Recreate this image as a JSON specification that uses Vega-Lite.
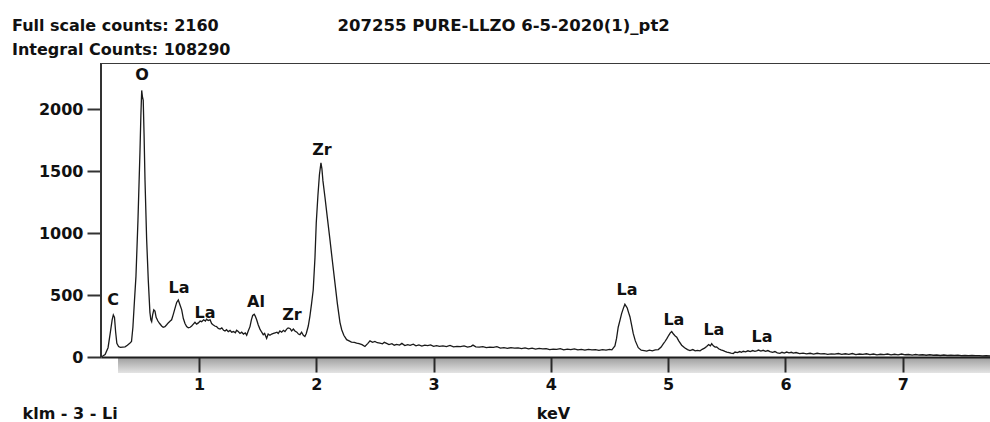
{
  "$schema": "https://vega.github.io/schema/vega-lite/v6.json",
  "width": 890,
  "height": 310,
  "autosize": {"type": "none"},
  "padding": {"left": 101, "top": 63, "right": 0, "bottom": 49},
  "background": "white",
  "title": {
    "text": ["Full scale counts: 2160", "Integral Counts: 108290"],
    "anchor": "start",
    "frame": "group",
    "dx": -89,
    "dy": 45,
    "fontSize": 16,
    "font": "DejaVu Sans",
    "fontWeight": "bold",
    "color": "#111111",
    "lineHeight": 24
  },
  "config": {"view": {"stroke": null}, "font": "DejaVu Sans"},
  "resolve": {"axis": {"x": "independent", "y": "independent"}},
  "datasets": {
    "spectrum": [
      {"keV":0.165,"counts":0},{"keV":0.18,"counts":8},{"keV":0.2,"counts":20},{"keV":0.225,"counts":75},{"keV":0.245,"counts":200},{"keV":0.26,"counts":300},{"keV":0.27,"counts":340},{"keV":0.28,"counts":320},{"keV":0.29,"counts":200},{"keV":0.3,"counts":110},{"keV":0.315,"counts":85},{"keV":0.33,"counts":78},{"keV":0.35,"counts":80},{"keV":0.37,"counts":82},{"keV":0.39,"counts":95},{"keV":0.41,"counts":110},{"keV":0.425,"counts":125},{"keV":0.437,"counts":240},{"keV":0.45,"counts":450},{"keV":0.463,"counts":650},{"keV":0.48,"counts":1100},{"keV":0.497,"counts":1650},{"keV":0.505,"counts":1950},{"keV":0.512,"counts":2150},{"keV":0.518,"counts":2100},{"keV":0.525,"counts":2070},{"keV":0.532,"counts":1800},{"keV":0.54,"counts":1430},{"keV":0.554,"counts":950},{"keV":0.568,"counts":620},{"keV":0.582,"counts":360},{"keV":0.59,"counts":300},{"keV":0.597,"counts":285},{"keV":0.605,"counts":340},{"keV":0.615,"counts":380},{"keV":0.625,"counts":370},{"keV":0.635,"counts":320},{"keV":0.65,"counts":290},{"keV":0.665,"counts":270},{"keV":0.682,"counts":250},{"keV":0.695,"counts":240},{"keV":0.71,"counts":245},{"keV":0.725,"counts":260},{"keV":0.738,"counts":275},{"keV":0.755,"counts":290},{"keV":0.767,"counts":300},{"keV":0.78,"counts":340},{"keV":0.795,"counts":390},{"keV":0.81,"counts":440},{"keV":0.824,"counts":460},{"keV":0.835,"counts":430},{"keV":0.853,"counts":380},{"keV":0.867,"counts":310},{"keV":0.881,"counts":270},{"keV":0.895,"counts":245},{"keV":0.909,"counts":235},{"keV":0.925,"counts":240},{"keV":0.938,"counts":250},{"keV":0.952,"counts":265},{"keV":0.966,"counts":280},{"keV":0.98,"counts":265},{"keV":0.995,"counts":275},{"keV":1.01,"counts":290},{"keV":1.023,"counts":285},{"keV":1.04,"counts":300},{"keV":1.055,"counts":290},{"keV":1.065,"counts":305},{"keV":1.079,"counts":295},{"keV":1.095,"counts":300},{"keV":1.108,"counts":270},{"keV":1.12,"counts":260},{"keV":1.135,"counts":250},{"keV":1.15,"counts":245},{"keV":1.165,"counts":230},{"keV":1.18,"counts":225},{"keV":1.195,"counts":235},{"keV":1.21,"counts":215},{"keV":1.222,"counts":210},{"keV":1.235,"counts":220},{"keV":1.25,"counts":205},{"keV":1.265,"counts":215},{"keV":1.279,"counts":200},{"keV":1.295,"counts":205},{"keV":1.31,"counts":195},{"keV":1.321,"counts":215},{"keV":1.335,"counts":205},{"keV":1.35,"counts":190},{"keV":1.364,"counts":200},{"keV":1.38,"counts":185},{"keV":1.395,"counts":195},{"keV":1.407,"counts":175},{"keV":1.42,"counts":210},{"keV":1.435,"counts":245},{"keV":1.447,"counts":300},{"keV":1.458,"counts":335},{"keV":1.471,"counts":345},{"keV":1.48,"counts":330},{"keV":1.492,"counts":300},{"keV":1.505,"counts":260},{"keV":1.52,"counts":225},{"keV":1.535,"counts":200},{"keV":1.548,"counts":180},{"keV":1.56,"counts":190},{"keV":1.577,"counts":150},{"keV":1.59,"counts":185},{"keV":1.605,"counts":175},{"keV":1.62,"counts":185},{"keV":1.635,"counts":190},{"keV":1.65,"counts":195},{"keV":1.665,"counts":200},{"keV":1.676,"counts":190},{"keV":1.69,"counts":210},{"keV":1.705,"counts":200},{"keV":1.72,"counts":215},{"keV":1.733,"counts":205},{"keV":1.748,"counts":225},{"keV":1.76,"counts":235},{"keV":1.776,"counts":230},{"keV":1.79,"counts":210},{"keV":1.805,"counts":225},{"keV":1.818,"counts":210},{"keV":1.835,"counts":200},{"keV":1.848,"counts":185},{"keV":1.861,"counts":180},{"keV":1.875,"counts":200},{"keV":1.89,"counts":175},{"keV":1.903,"counts":165},{"keV":1.915,"counts":190},{"keV":1.932,"counts":250},{"keV":1.946,"counts":330},{"keV":1.96,"counts":430},{"keV":1.974,"counts":540},{"keV":1.989,"counts":800},{"keV":2.0,"counts":1080},{"keV":2.014,"counts":1300},{"keV":2.027,"counts":1470},{"keV":2.04,"counts":1565},{"keV":2.048,"counts":1520},{"keV":2.057,"counts":1420},{"keV":2.074,"counts":1290},{"keV":2.095,"counts":1120},{"keV":2.117,"counts":944},{"keV":2.138,"counts":770},{"keV":2.159,"counts":600},{"keV":2.18,"counts":430},{"keV":2.202,"counts":280},{"keV":2.217,"counts":220},{"keV":2.235,"counts":175},{"keV":2.259,"counts":140},{"keV":2.28,"counts":130},{"keV":2.3,"counts":120},{"keV":2.325,"counts":118},{"keV":2.344,"counts":112},{"keV":2.365,"counts":108},{"keV":2.39,"counts":100},{"keV":2.415,"counts":85},{"keV":2.44,"counts":110},{"keV":2.458,"counts":130},{"keV":2.48,"counts":118},{"keV":2.5,"counts":125},{"keV":2.52,"counts":115},{"keV":2.543,"counts":112},{"keV":2.565,"counts":106},{"keV":2.58,"counts":118},{"keV":2.6,"counts":110},{"keV":2.62,"counts":100},{"keV":2.645,"counts":108},{"keV":2.665,"counts":95},{"keV":2.685,"counts":102},{"keV":2.71,"counts":96},{"keV":2.73,"counts":110},{"keV":2.755,"counts":92},{"keV":2.78,"counts":100},{"keV":2.8,"counts":94},{"keV":2.827,"counts":104},{"keV":2.85,"counts":90},{"keV":2.875,"counts":98},{"keV":2.9,"counts":88},{"keV":2.925,"counts":96},{"keV":2.95,"counts":92},{"keV":2.975,"counts":98},{"keV":3.0,"counts":86},{"keV":3.026,"counts":92},{"keV":3.05,"counts":86},{"keV":3.08,"counts":90},{"keV":3.11,"counts":84},{"keV":3.14,"counts":94},{"keV":3.17,"counts":82},{"keV":3.2,"counts":86},{"keV":3.23,"counts":84},{"keV":3.26,"counts":90},{"keV":3.29,"counts":80},{"keV":3.32,"counts":86},{"keV":3.336,"counts":96},{"keV":3.36,"counts":82},{"keV":3.39,"counts":80},{"keV":3.42,"counts":84},{"keV":3.45,"counts":76},{"keV":3.48,"counts":80},{"keV":3.51,"counts":78},{"keV":3.54,"counts":84},{"keV":3.57,"counts":72},{"keV":3.6,"counts":76},{"keV":3.63,"counts":70},{"keV":3.66,"counts":76},{"keV":3.69,"counts":72},{"keV":3.72,"counts":74},{"keV":3.75,"counts":68},{"keV":3.78,"counts":74},{"keV":3.81,"counts":66},{"keV":3.84,"counts":72},{"keV":3.87,"counts":64},{"keV":3.9,"counts":70},{"keV":3.93,"counts":66},{"keV":3.96,"counts":68},{"keV":3.99,"counts":60},{"keV":4.02,"counts":64},{"keV":4.05,"counts":62},{"keV":4.08,"counts":68},{"keV":4.11,"counts":58},{"keV":4.14,"counts":64},{"keV":4.17,"counts":60},{"keV":4.2,"counts":66},{"keV":4.23,"counts":58},{"keV":4.26,"counts":62},{"keV":4.29,"counts":56},{"keV":4.32,"counts":62},{"keV":4.35,"counts":58},{"keV":4.38,"counts":60},{"keV":4.41,"counts":54},{"keV":4.44,"counts":60},{"keV":4.47,"counts":56},{"keV":4.5,"counts":62},{"keV":4.52,"counts":58},{"keV":4.546,"counts":90},{"keV":4.56,"counts":150},{"keV":4.574,"counts":240},{"keV":4.59,"counts":300},{"keV":4.603,"counts":350},{"keV":4.617,"counts":390},{"keV":4.631,"counts":425},{"keV":4.641,"counts":410},{"keV":4.651,"counts":395},{"keV":4.662,"counts":360},{"keV":4.674,"counts":325},{"keV":4.688,"counts":260},{"keV":4.702,"counts":190},{"keV":4.72,"counts":130},{"keV":4.745,"counts":75},{"keV":4.77,"counts":55},{"keV":4.795,"counts":52},{"keV":4.817,"counts":48},{"keV":4.84,"counts":56},{"keV":4.865,"counts":50},{"keV":4.89,"counts":58},{"keV":4.916,"counts":60},{"keV":4.94,"counts":80},{"keV":4.958,"counts":105},{"keV":4.973,"counts":125},{"keV":4.99,"counts":150},{"keV":5.005,"counts":175},{"keV":5.018,"counts":195},{"keV":5.03,"counts":205},{"keV":5.045,"counts":185},{"keV":5.06,"counts":170},{"keV":5.073,"counts":160},{"keV":5.09,"counts":130},{"keV":5.115,"counts":95},{"keV":5.14,"counts":75},{"keV":5.165,"counts":60},{"keV":5.186,"counts":52},{"keV":5.21,"counts":60},{"keV":5.23,"counts":50},{"keV":5.25,"counts":54},{"keV":5.272,"counts":50},{"keV":5.29,"counts":62},{"keV":5.31,"counts":72},{"keV":5.328,"counts":85},{"keV":5.345,"counts":100},{"keV":5.36,"counts":90},{"keV":5.371,"counts":108},{"keV":5.385,"counts":90},{"keV":5.4,"counts":80},{"keV":5.413,"counts":82},{"keV":5.43,"counts":66},{"keV":5.45,"counts":58},{"keV":5.47,"counts":52},{"keV":5.484,"counts":46},{"keV":5.5,"counts":40},{"keV":5.52,"counts":36},{"keV":5.535,"counts":32},{"keV":5.555,"counts":28},{"keV":5.57,"counts":40},{"keV":5.59,"counts":36},{"keV":5.61,"counts":44},{"keV":5.625,"counts":38},{"keV":5.64,"counts":46},{"keV":5.66,"counts":42},{"keV":5.68,"counts":50},{"keV":5.7,"counts":44},{"keV":5.72,"counts":52},{"keV":5.74,"counts":46},{"keV":5.754,"counts":50},{"keV":5.77,"counts":56},{"keV":5.79,"counts":48},{"keV":5.81,"counts":54},{"keV":5.83,"counts":46},{"keV":5.85,"counts":52},{"keV":5.868,"counts":44},{"keV":5.89,"counts":38},{"keV":5.91,"counts":44},{"keV":5.93,"counts":34},{"keV":5.953,"counts":30},{"keV":5.97,"counts":38},{"keV":5.99,"counts":32},{"keV":6.01,"counts":40},{"keV":6.03,"counts":34},{"keV":6.05,"counts":38},{"keV":6.067,"counts":32},{"keV":6.09,"counts":36},{"keV":6.12,"counts":28},{"keV":6.15,"counts":32},{"keV":6.18,"counts":26},{"keV":6.21,"counts":30},{"keV":6.24,"counts":24},{"keV":6.27,"counts":30},{"keV":6.3,"counts":26},{"keV":6.33,"counts":28},{"keV":6.36,"counts":22},{"keV":6.39,"counts":26},{"keV":6.42,"counts":24},{"keV":6.45,"counts":28},{"keV":6.48,"counts":22},{"keV":6.51,"counts":26},{"keV":6.54,"counts":22},{"keV":6.57,"counts":28},{"keV":6.6,"counts":20},{"keV":6.63,"counts":24},{"keV":6.66,"counts":22},{"keV":6.69,"counts":26},{"keV":6.72,"counts":20},{"keV":6.75,"counts":24},{"keV":6.78,"counts":18},{"keV":6.81,"counts":22},{"keV":6.84,"counts":20},{"keV":6.87,"counts":24},{"keV":6.9,"counts":18},{"keV":6.93,"counts":22},{"keV":6.96,"counts":18},{"keV":6.99,"counts":24},{"keV":7.02,"counts":18},{"keV":7.05,"counts":20},{"keV":7.08,"counts":16},{"keV":7.11,"counts":20},{"keV":7.14,"counts":16},{"keV":7.17,"counts":18},{"keV":7.2,"counts":14},{"keV":7.23,"counts":18},{"keV":7.26,"counts":14},{"keV":7.29,"counts":16},{"keV":7.32,"counts":12},{"keV":7.35,"counts":16},{"keV":7.38,"counts":12},{"keV":7.41,"counts":14},{"keV":7.44,"counts":12},{"keV":7.47,"counts":14},{"keV":7.5,"counts":10},{"keV":7.53,"counts":12},{"keV":7.56,"counts":10},{"keV":7.59,"counts":12},{"keV":7.62,"counts":10},{"keV":7.65,"counts":10},{"keV":7.68,"counts":8},{"keV":7.71,"counts":10},{"keV":7.74,"counts":8},{"keV":7.78,"counts":8}
    ],
    "peaks": [
      {"element":"C","keV":0.268,"counts":460},
      {"element":"O","keV":0.514,"counts":2274},
      {"element":"La","keV":0.83,"counts":556},
      {"element":"La","keV":1.051,"counts":355},
      {"element":"Al","keV":1.486,"counts":444},
      {"element":"Zr","keV":1.793,"counts":339},
      {"element":"Zr","keV":2.049,"counts":1669},
      {"element":"La","keV":4.649,"counts":540},
      {"element":"La","keV":5.049,"counts":298},
      {"element":"La","keV":5.39,"counts":218},
      {"element":"La","keV":5.8,"counts":161}
    ],
    "one": [{}]
  },
  "layer": [
    {
      "data": {"name": "one"},
      "mark": {
        "type": "rect",
        "clip": true,
        "color": {
          "gradient": "linear",
          "x1": 0, "y1": 0, "x2": 0, "y2": 1,
          "stops": [
            {"offset": 0, "color": "#9c9c9c"},
            {"offset": 1, "color": "#e4e4e4"}
          ]
        }
      },
      "encoding": {
        "x": {"datum": 0.31, "type": "quantitative", "axis": null},
        "x2": {"datum": 7.9},
        "y": {"datum": 0, "type": "quantitative", "axis": null},
        "y2": {"datum": -129}
      }
    },
    {
      "data": {"name": "spectrum"},
      "mark": {"type": "line", "clip": true, "color": "#1a1a1a", "strokeWidth": 1.3},
      "encoding": {
        "x": {
          "field": "keV",
          "type": "quantitative",
          "scale": {"domain": [0.165, 7.752], "nice": false, "zero": false},
          "axis": {
            "orient": "bottom",
            "offset": -16,
            "zindex": 2,
            "values": [1, 2, 3, 4, 5, 6, 7],
            "format": "d",
            "title": "keV",
            "titleX": 452,
            "titleY": 61,
            "titleAlign": "center",
            "titleBaseline": "alphabetic",
            "titleFont": "DejaVu Sans",
            "titleFontSize": 16,
            "titleFontWeight": "bold",
            "titleColor": "#111111",
            "labelFont": "DejaVu Sans",
            "labelFontSize": 16,
            "labelFontWeight": "bold",
            "labelColor": "#111111",
            "labelPadding": 4,
            "labelFlush": false,
            "ticks": true,
            "tickSize": 15,
            "tickWidth": 2,
            "tickColor": "#2a2a2a",
            "domain": true,
            "domainColor": "#1e1e1e",
            "domainWidth": 2,
            "grid": false
          }
        },
        "y": {
          "field": "counts",
          "type": "quantitative",
          "scale": {"domain": [-129, 2371], "nice": false, "zero": false},
          "axis": {
            "orient": "left",
            "zindex": 2,
            "values": [0, 500, 1000, 1500, 2000],
            "format": "d",
            "domain": false,
            "ticks": true,
            "labels": true,
            "title": "klm - 3 - Li",
            "titleAngle": 0,
            "titleX": -79,
            "titleY": 355,
            "titleAlign": "left",
            "titleBaseline": "alphabetic",
            "titleFont": "DejaVu Sans",
            "titleFontSize": 16,
            "titleFontWeight": "bold",
            "titleColor": "#111111",
            "labelFont": "DejaVu Sans",
            "labelFontSize": 16,
            "labelFontWeight": "bold",
            "labelColor": "#111111",
            "labelPadding": 4,
            "labelFlush": false,
            "tickSize": 14,
            "tickWidth": 2,
            "tickColor": "#333333",
            "grid": false
          }
        }
      }
    },
    {
      "data": {"name": "one"},
      "mark": {"type": "rule", "color": "#333333", "strokeWidth": 2},
      "encoding": {
        "x": {"datum": 0.165, "type": "quantitative", "axis": null},
        "y": {"datum": 0, "type": "quantitative", "axis": null},
        "y2": {"datum": 2371}
      }
    },
    {
      "data": {"name": "one"},
      "mark": {"type": "rule", "color": "#3a3a3a", "strokeWidth": 2, "clip": true},
      "encoding": {
        "y": {"datum": 2371, "type": "quantitative", "axis": null},
        "x": {
          "datum": 0.165,
          "type": "quantitative",
          "axis": {
            "orient": "top",
            "ticks": false,
            "labels": false,
            "domain": false,
            "grid": false,
            "title": "207255 PURE-LLZO 6-5-2020(1)_pt2",
            "titleX": 236,
            "titleY": -33,
            "titleAlign": "left",
            "titleBaseline": "alphabetic",
            "titleFont": "DejaVu Sans",
            "titleFontSize": 16.5,
            "titleFontWeight": "bold",
            "titleColor": "#111111"
          }
        },
        "x2": {"datum": 7.9}
      }
    },
    {
      "data": {"name": "peaks"},
      "mark": {
        "type": "text",
        "font": "DejaVu Sans",
        "fontSize": 16,
        "fontWeight": "bold",
        "color": "#111111",
        "baseline": "middle",
        "align": "center"
      },
      "encoding": {
        "x": {"field": "keV", "type": "quantitative", "axis": null},
        "y": {"field": "counts", "type": "quantitative", "axis": null},
        "text": {"field": "element"}
      }
    }
  ]
}
